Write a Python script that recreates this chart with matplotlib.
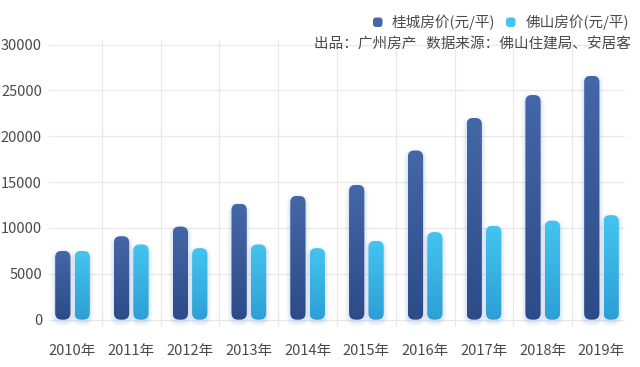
import numpy as np
import matplotlib
matplotlib.use("Agg")
import matplotlib.pyplot as plt
from matplotlib.patches import FancyBboxPatch
from matplotlib.colors import LinearSegmentedColormap

plt.rcParams['font.family'] = ['Noto Sans CJK SC', 'DejaVu Sans']

# data
years = ["2010年", "2011年", "2012年", "2013年", "2014年",
         "2015年", "2016年", "2017年", "2018年", "2019年"]
guicheng = [7500, 9100, 10150, 12650, 13500, 14700, 18450, 22000, 24500, 26600]
foshan = [7500, 8200, 7800, 8200, 7800, 8600, 9550, 10250, 10800, 11400]
series_names = ["桂城房价(元/平)", "佛山房价(元/平)"]
subtitle = "出品：广州房产   数据来源：佛山住建局、安居客"

dark_top, dark_bot = "#4467a7", "#2c4b88"
light_top, light_bot = "#44c4ef", "#2d9fd6"
text_col = "#4a4a4a"
grid_col = "#e9e9ec"

fig = plt.figure(figsize=(6.4, 3.67), dpi=100)
ax = fig.add_axes([49 / 640, 40 / 367, 576 / 640, 287 / 367])
ax.set_xlim(-0.4, 9.4)
ax.set_ylim(-800, 30500)

# px per data unit, used to keep the corners round
bbox = ax.get_position()
px_x = bbox.width * 640 / 9.8
px_y = bbox.height * 367 / 31300
aspect = px_x / px_y

x = np.arange(len(years))
width = 0.26
offset = 0.165
rad = 0.11


def draw_bar(xc, h, c_top, c_bot):
    x0 = xc - width / 2
    # soft shadow
    for grow, a in [(0.07, 0.05), (0.045, 0.07), (0.02, 0.09)]:
        sh = FancyBboxPatch((x0 - grow, -grow * aspect - 250), width + 2 * grow,
                            h + 2 * grow * aspect,
                            boxstyle=f"round,pad=0,rounding_size={rad + grow}",
                            mutation_aspect=aspect, fc="#6f8fc8", ec="none",
                            alpha=a, zorder=2)
        ax.add_patch(sh)
    p = FancyBboxPatch((x0, 0), width, h,
                       boxstyle=f"round,pad=0,rounding_size={rad}",
                       mutation_aspect=aspect, fc="none", ec="none", zorder=3)
    ax.add_patch(p)
    cmap = LinearSegmentedColormap.from_list("g", [c_bot, c_top])
    grad = np.linspace(0, 1, 100).reshape(-1, 1)
    im = ax.imshow(grad, cmap=cmap, aspect="auto", origin="lower",
                   extent=[x0, x0 + width, 0, h], zorder=3)
    im.set_clip_path(p)


for i in x:
    draw_bar(i - offset, guicheng[i], dark_top, dark_bot)
    draw_bar(i + offset, foshan[i], light_top, light_bot)

ax.set_xlim(-0.4, 9.4)
ax.set_ylim(-800, 30500)

# grid
for v in range(0, 30001, 5000):
    ax.axhline(v, color=grid_col, lw=0.9, zorder=1)
for b in np.arange(0.5, 9, 1):
    ax.axvline(b, color=grid_col, lw=0.9, zorder=1)

ax.set_xticks(x)
ax.set_xticklabels(years)
ax.set_yticks(range(0, 30001, 5000))
ax.tick_params(axis="both", length=0, labelsize=10.5, colors=text_col)
ax.tick_params(axis="x", pad=12)
ax.tick_params(axis="y", pad=5)
for s in ax.spines.values():
    s.set_visible(False)

# legend
legend_items = [(373, dark_top, series_names[0], 392),
                (506, light_top, series_names[1], 526)]
for mx, col, label, tx in legend_items:
    mk = FancyBboxPatch((mx / 100, (367 - 27) / 100), 0.095, 0.095,
                        boxstyle="round,pad=0,rounding_size=0.03",
                        transform=fig.dpi_scale_trans, fc=col, ec="none")
    fig.patches.append(mk)
    fig.text(tx / 640, 1 - 22 / 367, label, ha="left", va="center",
             fontsize=10.5, color=text_col)

fig.text(631 / 640, 1 - 45 / 367, subtitle, ha="right", va="center",
         fontsize=10.5, color=text_col)

fig.savefig("out.png", dpi=100)
